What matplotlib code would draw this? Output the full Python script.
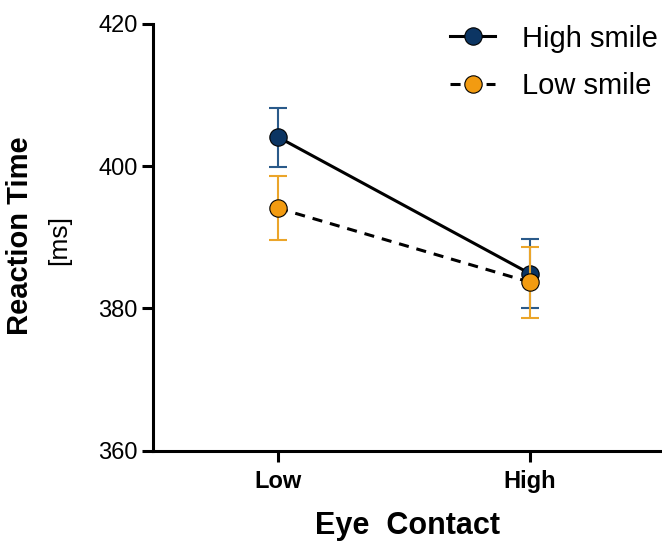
import matplotlib
matplotlib.use("Agg")
import matplotlib.pyplot as plt
from matplotlib.lines import Line2D

plt.rcParams['font.family'] = ['Liberation Sans', 'DejaVu Sans']

categories = ["Low", "High"]
series_names = ["High smile", "Low smile"]
high_smile = [404.1, 384.9]
high_smile_err = [4.15, 4.85]
low_smile = [394.1, 383.7]
low_smile_err = [4.5, 5.0]
yticks = [360, 380, 400, 420]

navy = "#0c3563"
navy_err = "#2a5a8a"
orange = "#f29b11"
orange_err = "#eba52a"

fig = plt.figure(figsize=(6.62, 5.41), dpi=100)
ax = fig.add_axes([153/662, 1 - 450.7/541, (662-153)/662, (450.7-24)/541])

x = list(range(len(categories)))
lw = 2.2
ms = 12.5

# High smile
ax.plot(x, high_smile, color="black", lw=lw, zorder=2)
ax.errorbar(x, high_smile, yerr=high_smile_err, fmt="none", ecolor=navy_err,
            elinewidth=1.5, capsize=6.5, capthick=1.5, zorder=3)
ax.plot(x, high_smile, "o", color=navy, markeredgecolor="black", markeredgewidth=0.8,
        markersize=ms, zorder=4)
# Low smile
ax.plot(x, low_smile, color="black", lw=lw, dashes=(3.3, 2.6), zorder=5)
ax.errorbar(x, low_smile, yerr=low_smile_err, fmt="none", ecolor=orange_err,
            elinewidth=1.5, capsize=6.5, capthick=1.5, zorder=6)
ax.plot(x, low_smile, "o", color=orange, markeredgecolor="black", markeredgewidth=0.8,
        markersize=ms, zorder=7)

ax.set_xlim(-0.496, 1.524)
ax.set_ylim(360, 420)
ax.set_yticks(yticks)
ax.set_xticks(x)
ax.set_xticklabels(categories, fontweight="bold", fontsize=17)
ax.tick_params(axis="y", labelsize=17, length=8, width=2.2, pad=3)
ax.tick_params(axis="x", length=8, width=2.2, pad=6)
for s in ["top", "right"]:
    ax.spines[s].set_visible(False)
for s in ["left", "bottom"]:
    ax.spines[s].set_linewidth(2.2)

fig.text(407.5/662, 1 - 534/541, "Eye  Contact", fontsize=22, fontweight="bold",
         ha="center", va="baseline")

fig.text(20/662, 1 - 236/541, "Reaction Time", rotation=90, fontsize=21,
         fontweight="bold", ha="center", va="center")
fig.text(59/662, 1 - 240/541, "[ms]", rotation=90, fontsize=19,
         ha="center", va="center")

handles = [
    Line2D([], [], color="black", lw=lw, marker="o", markersize=ms,
           markerfacecolor=navy, markeredgecolor="black", markeredgewidth=0.8),
    Line2D([], [], color="black", lw=lw, dashes=(3.3, 2.6), marker="o", markersize=ms,
           markerfacecolor=orange, markeredgecolor="black", markeredgewidth=0.8),
]
leg = fig.legend(handles, series_names, loc="upper right",
                 bbox_to_anchor=(1 + 10/662, 1 - 10/541),
                 frameon=False, fontsize=21, handlelength=1.55, handletextpad=0.9,
                 labelspacing=0.67, borderaxespad=0.1)

fig.savefig("out.png", dpi=100)
